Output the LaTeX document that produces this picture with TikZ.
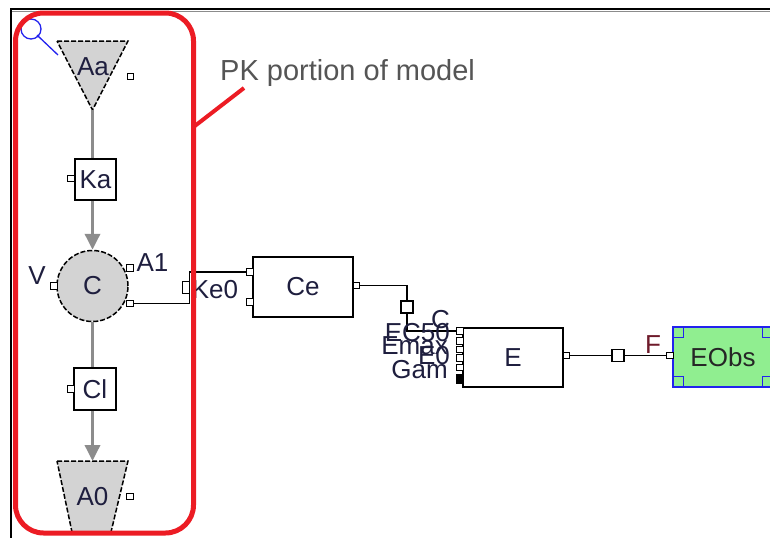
\documentclass[tikz,border=0pt]{standalone}
\usepackage{fontspec}
\setmainfont{Liberation Sans}
\usetikzlibrary{arrows.meta}
\definecolor{pkred}{HTML}{EC1C24}
\definecolor{shapegray}{HTML}{D3D3D3}
\definecolor{linegray}{HTML}{8C8C8C}
\definecolor{txt}{HTML}{1E1E3E}
\definecolor{notegray}{HTML}{555555}
\definecolor{obsgreen}{HTML}{90EE90}
\definecolor{selblue}{HTML}{2222EE}
\definecolor{fred}{HTML}{6E1A2A}
\newcommand\lblfont{\fontsize{26}{30}\selectfont}
\tikzset{
 conn/.style={draw=black, line width=1.5pt},
 port/.style={shape=rectangle, draw=black, fill=white, line width=1.2pt, minimum width=6.5pt, minimum height=6.5pt, inner sep=0pt},
 blk/.style={shape=rectangle, draw=black, fill=white, line width=1.6pt, inner sep=0pt, text=txt, font=\lblfont},
 lbl/.style={inner sep=0pt, text=txt, font=\lblfont},
 gline/.style={draw=linegray, line width=3.5pt},
 garrow/.style={gline, -{Triangle[length=16pt,width=15pt]}},
 dsh/.style={draw=black, line width=1.5pt, dash pattern=on 5pt off 2pt, fill=shapegray},
 handle/.style={shape=rectangle, draw=selblue, line width=1.3pt, minimum size=10.5pt, inner sep=0pt},
}
\begin{document}
\begin{tikzpicture}[x=1pt,y=-1pt]
\useasboundingbox (0,0) rectangle (770,538);
\clip (0,0) rectangle (770,538);
% window frame
\draw[black!45, line width=1pt] (10,11.2) -- (770,11.2);
\draw[black, line width=2pt] (10,9.3) -- (770,9.3);
\draw[black, line width=2pt] (11,9) -- (11,538);

% magnifier
\draw[selblue, line width=1.3pt] (31,29) circle (10);
\draw[selblue, line width=1.3pt] (38,36) -- (58,55);
\fill[selblue] (38,36) circle (1.6);

% PK shapes
\draw[dsh] (57,41) -- (128,41) -- (92.5,110) -- cycle;
\coordinate (Aatip) at (92.5,110);
\node[lbl] (Aalbl) at (93,66.5) {Aa};
\node[port] (Aaport) at (130.5,76.5) {};

\node[blk, minimum width=41pt, minimum height=41pt] (Ka) at (95.5,179.5) {Ka};
\node[port] (Kaport) at (71,178.5) {};

\node[circle, dsh, minimum size=71pt, inner sep=0pt, text=txt, font=\lblfont] (C) at (92.5,286) {C};
\node[port] (Vport) at (54,286) {};
\node[lbl] (Vlbl) at (37,276) {V};
\node[port] (A1port) at (130,268) {};
\node[lbl] (A1lbl) at (152.5,263) {A1};
\node[port] (Cout) at (130,303.5) {};

\node[blk, minimum width=42pt, minimum height=42pt] (Cl) at (95,389) {Cl};
\node[port] (Clport) at (71,389) {};

\draw[dsh] (57,461) -- (128,461) -- (111,532) -- (72,532) -- cycle;
\coordinate (A0top) at (92.5,461);
\node[lbl] (A0lbl) at (92.5,497) {A0};
\node[port] (A0port) at (130,496.5) {};

% gray flow lines
\draw[gline] (Aatip) -- (Aatip |- Ka.north);
\draw[garrow] (C.north |- Ka.south) -- (C.north);
\draw[gline] (C.south) -- (C.south |- Cl.north);
\draw[garrow] (C.south |- Cl.south) -- (A0top);

% Ce block
\node[blk, minimum width=100pt, minimum height=60pt] (Ce) at (303,287) {Ce};
\node[port] (CeIn1) at (250,272) {};
\node[port] (CeIn2) at (250,302) {};
\node[port] (CeOut) at (356.5,285.5) {};
\node[port, minimum width=6.5pt, minimum height=11.5pt] (Ke0port) at (186,287.5) {};
\node[lbl] (Ke0lbl) at (215,290) {Ke0};

% E block
\node[blk, minimum width=100pt, minimum height=59pt] (E) at (513,357.5) {E};
\node[port] (EpC) at (460,331) {};
\node[port] (EpEC) at (460,341) {};
\node[port] (EpEmax) at (460,349.5) {};
\node[port] (EpE0) at (460,358) {};
\node[port] (EpGam) at (460,367.5) {};
\node[port, fill=black, minimum height=8pt] (Epx) at (460,379) {};
\node[port] (Eout) at (566.5,355.5) {};

\node[port, minimum size=12pt] (sq1) at (407,307) {};
\node[port, minimum size=12pt] (sq2) at (618,355.5) {};

% EObs
\node[blk, fill=obsgreen, draw=selblue, text=black!85, minimum width=100pt, minimum height=60pt] (EObs) at (723,357) {EObs};
\node[handle, anchor=north west] (h1) at (EObs.north west) {};
\node[handle, anchor=south west] (h2) at (EObs.south west) {};
\node[handle, anchor=north east] (h3) at (EObs.north east) {};
\node[handle, anchor=south east] (h4) at (EObs.south east) {};
\node[port] (EObsIn) at (670,355.5) {};
\node[lbl, text=fred] (Flbl) at (653,345) {F};

% connectors
\coordinate (kbend) at (189.5,303.5);
\draw[conn] (Cout.east) -- (kbend) |- (CeIn1.west);
\draw[conn] (CeOut.east) -| (sq1.north);
\draw[conn] (sq1.south) |- (EpC.west);
\draw[conn] (Eout.east) -- (sq2.west);
\draw[conn] (sq2.east) -- (EObsIn.west);

% E input labels
\node[lbl, anchor=east] (lC) at (450,320) {C};
\node[lbl, anchor=east] (lEC) at (450,332.5) {EC50};
\node[lbl, anchor=east] (lEmax) at (448,346) {Emax};
\node[lbl, anchor=east] (lE0) at (450,356) {E0};
\node[lbl, anchor=east] (lGam) at (448,370) {Gam};

% PK annotation
\draw[pkred, line width=5pt, rounded corners=28pt] (15.5,13) rectangle (193.5,533);
\coordinate (calloutA) at (193.5,127);
\coordinate (calloutB) at (244,88);
\draw[pkred, line width=4pt] (calloutA) -- (calloutB);
\node[anchor=base west, inner sep=0pt, text=notegray, font=\fontsize{29}{34}\selectfont] (pk) at (220,80) {PK portion of model};
\end{tikzpicture}
\end{document}
